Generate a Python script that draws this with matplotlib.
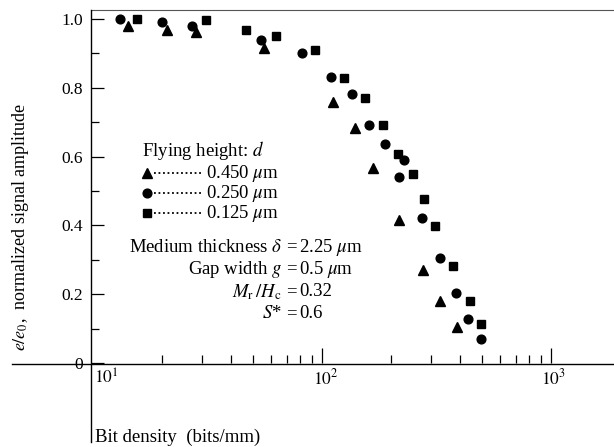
import matplotlib
matplotlib.use("Agg")
import matplotlib.pyplot as plt
from matplotlib.lines import Line2D
import numpy as np

plt.rcParams['font.family'] = ['Liberation Serif', 'DejaVu Serif']
plt.rcParams['mathtext.fontset'] = 'stix'

# Data (bit density in bits/mm, normalized amplitude)
tri_x = [14.2, 21.1, 28.2, 56.0, 112, 139.6, 167.6, 216.9, 276.7, 328.8, 387]
tri_y = [0.98, 0.968, 0.963, 0.917, 0.760, 0.684, 0.566, 0.416, 0.270, 0.180, 0.106]
cir_x = [13.1, 20.1, 27.0, 54.2, 82, 109.4, 135.6, 161, 188.4, 217.8, 228.7, 272.5, 328.8, 384.8, 435.6, 493]
cir_y = [1.0, 0.992, 0.98, 0.939, 0.90, 0.832, 0.782, 0.692, 0.637, 0.542, 0.590, 0.421, 0.304, 0.204, 0.128, 0.069]
sq_x = [15.6, 31.1, 46.4, 62.8, 93.5, 124.8, 154.3, 185.4, 215.2, 250.7, 280.2, 311, 375, 442.8, 494]
sq_y = [1.0, 0.997, 0.968, 0.951, 0.91, 0.828, 0.771, 0.692, 0.607, 0.549, 0.476, 0.398, 0.283, 0.179, 0.113]

legend_labels = [r"0.450 $\mu$m", r"0.250 $\mu$m", r"0.125 $\mu$m"]
y_ticks = [0, 0.2, 0.4, 0.6, 0.8, 1.0]
y_ticklabels = ["0", "0.2", "0.4", "0.6", "0.8", "1.0"]
x_majors = [100, 1000]
x_ticklabels = [r"$10^1$", r"$10^2$", r"$10^3$"]

W, H = 614, 447
fig = plt.figure(figsize=(W / 100, H / 100), dpi=100)
L, R, T, B = 91, 614, 10, 363
ax = fig.add_axes([L / W, (H - B) / H, (R - L) / W, (B - T) / H])
ax.set_xscale('log')
ax.set_xlim(10 ** (1 - 2 / 229), 10 ** (3 + 63 / 229))
ax.set_ylim(0, 1 + 9 / 344)

col = 'black'
ax.plot(tri_x, tri_y, linestyle='none', marker='^', ms=6.5, color=col, clip_on=False)
ax.plot(cir_x, cir_y, linestyle='none', marker='o', ms=6.3, color=col, clip_on=False)
ax.plot(sq_x, sq_y, linestyle='none', marker='s', ms=5.3, color=col, clip_on=False)

for s in ['right', 'bottom', 'left']:
    ax.spines[s].set_visible(False)
ax.spines['top'].set_linewidth(0.8)
ax.spines['top'].set_color('#555555')

def px(x, y):
    return (x / W, (H - y) / H)

# extended left spine and bottom axis line
fig.add_artist(Line2D([L / W, L / W], [(H - T) / H, (H - 442) / H], color='black', lw=1.0))
fig.add_artist(Line2D([12 / W, 1.0], [(H - 364) / H, (H - 364) / H], color='black', lw=1.0))

# ticks: inward
ax.set_yticks(y_ticks)
ax.set_yticks([0.1, 0.3, 0.5, 0.7, 0.9], minor=True)
ax.set_yticklabels(y_ticklabels, fontsize=12.5)
ax.tick_params(axis='y', which='major', direction='in', length=9, width=0.9, pad=6, left=True)
ax.tick_params(axis='y', which='minor', direction='in', length=6, width=0.9)

ax.set_xticks(x_majors)
ax.set_xticklabels([])
minors = [m * 10 ** k for k in (1, 2) for m in range(2, 10)]
ax.set_xticks(minors, minor=True)
ax.xaxis.set_minor_formatter(matplotlib.ticker.NullFormatter())
ax.tick_params(axis='x', which='major', direction='in', length=11, width=0.9)
ax.tick_params(axis='x', which='minor', direction='in', length=6, width=0.9)

# x tick labels
xlab_pos = [(106, 378), (326, 378), (553, 378)]
for (xp, yp), lab in zip(xlab_pos, x_ticklabels):
    fig.text(*px(xp, yp), lab, ha='center', va='center', fontsize=12.5)

fig.text(*px(95, 437), "Bit density  (bits/mm)", ha='left', va='center', fontsize=13.5)

fig.text(*px(21, 227), r"$e/e_0$,  normalized signal amplitude", rotation=90,
         ha='center', va='center', fontsize=13)

# annotation block
fs = 13.5
fig.text(*px(142, 151), r"Flying height: $d$", ha='left', va='center', fontsize=fs)
markers = ['^', 'o', 's']
msz = [6.5, 6.3, 5.3]
rows_y = [173, 193, 213]
for m, s, yy, lab in zip(markers, msz, rows_y, legend_labels):
    fx, fy = px(147, yy)
    fig.add_artist(Line2D([fx], [fy], marker=m, ms=s, color='black', linestyle='none'))
    fig.add_artist(Line2D([154 / W, 202 / W], [fy, fy], color='black', lw=1.3,
                          linestyle=(0, (1, 1.5))))
    fig.text(*px(206, yy), lab, ha='left', va='center', fontsize=fs)

eq_x = 291
eq_rows = [
    (247, r"Medium thickness $\delta$", r"2.25 $\mu$m"),
    (269, r"Gap width $g$", r"0.5 $\mu$m"),
    (292, r"$M_{\mathrm{r}}\,/H_{\mathrm{c}}$", "0.32"),
    (314, r"$S$*", "0.6"),
]
for yy, lhs, rhs in eq_rows:
    fig.text(*px(eq_x - 9, yy), lhs, ha='right', va='center', fontsize=fs)
    fig.text(*px(eq_x, yy), "=", ha='center', va='center', fontsize=fs)
    fig.text(*px(eq_x + 8, yy), rhs, ha='left', va='center', fontsize=fs)

fig.savefig("out.png", dpi=100)
